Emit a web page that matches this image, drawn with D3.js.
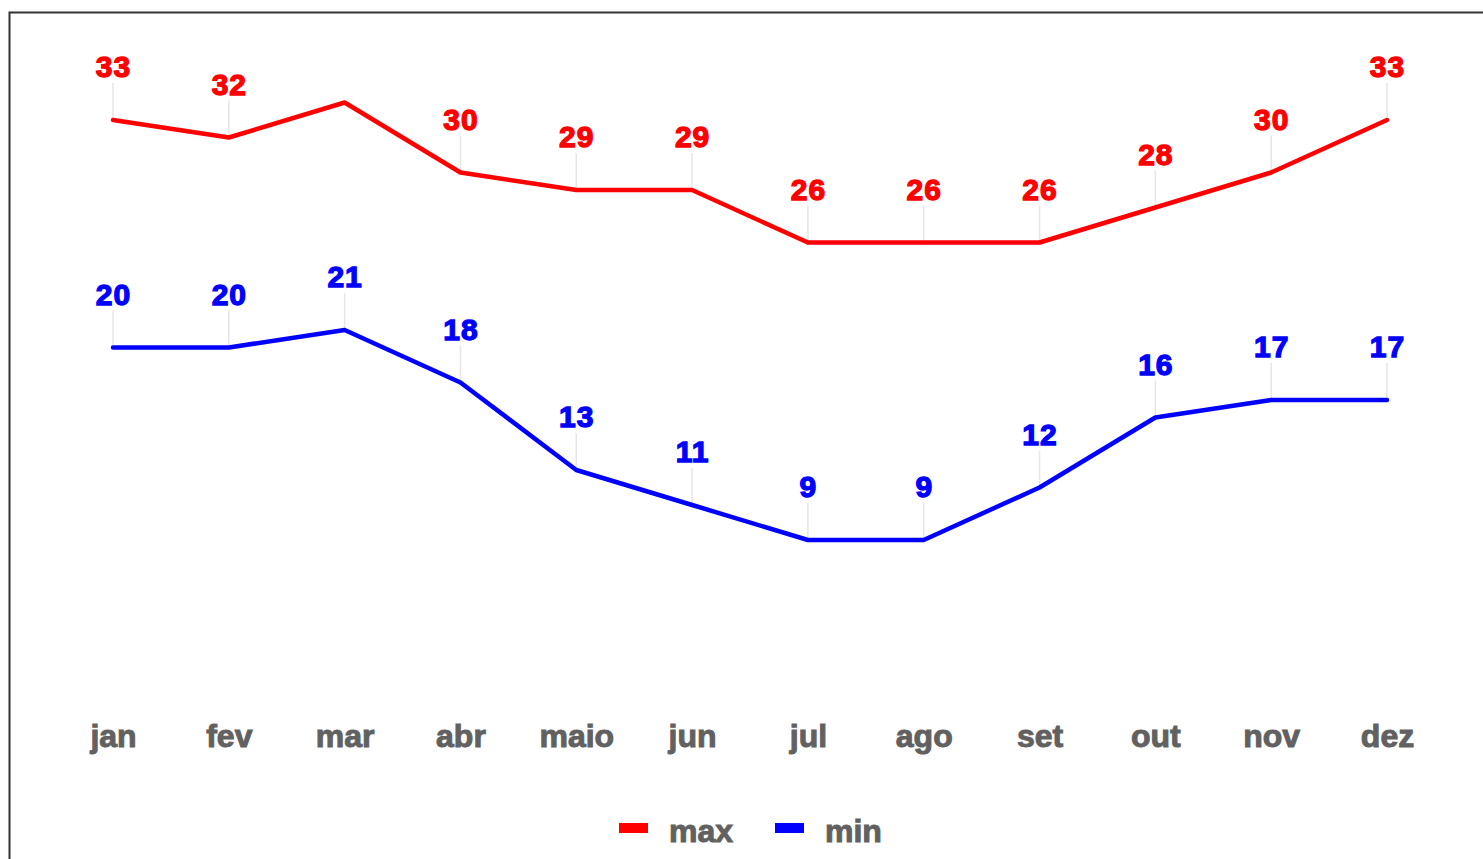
<!DOCTYPE html>
<html>
<head>
<meta charset="utf-8">
<script src="https://cdn.jsdelivr.net/npm/d3@7/dist/d3.min.js"></script>
<style>
  html, body { margin: 0; padding: 0; background: #fff; }
  svg { display: block; }
</style>
</head>
<body>
<svg id="chart" width="1483" height="859"></svg>
<script>
// Monthly temperatures (°C)
const months = ["jan", "fev", "mar", "abr", "maio", "jun", "jul", "ago", "set", "out", "nov", "dez"];
const maxTemps = [33, 32, 34, 30, 29, 29, 26, 26, 26, 28, 30, 33];
const minTemps = [20, 20, 21, 18, 13, 11, 9, 9, 12, 16, 17, 17];
// months whose "max" label is left off
const maxLabelHidden = ["mar"];

const seriesNames = ["max", "min"];
const seriesColors = ["#ff0000", "#0000ff"];

const svg = d3.select("#chart");
const W = 1483, H = 859;

// outer frame
svg.append("rect")
  .attr("x", 9.5).attr("y", 12.5)
  .attr("width", W + 20).attr("height", H + 20)
  .attr("fill", "#fff")
  .attr("stroke", "#333").attr("stroke-width", 2);

const x = d3.scalePoint().domain(months).range([113, 1387]);
const y = d3.scaleLinear().domain([0, 36]).range([697.5, 67.5]);

const series = [
  { name: seriesNames[0], color: seriesColors[0], values: maxTemps, hidden: maxLabelHidden },
  { name: seriesNames[1], color: seriesColors[1], values: minTemps, hidden: [] }
];

const labelFont = "'Liberation Sans', Arial, sans-serif";
const labelOffset = 53;

// leader lines from each label down to its point
series.forEach(s => {
  svg.append("g").selectAll("line")
    .data(months.map((m, i) => ({ m, v: s.values[i] })).filter(d => !s.hidden.includes(d.m)))
    .join("line")
    .attr("x1", d => x(d.m)).attr("x2", d => x(d.m))
    .attr("y1", d => y(d.v) - labelOffset + 16)
    .attr("y2", d => y(d.v))
    .attr("stroke", "#e6e6e6").attr("stroke-width", 1.5);
});

// the two lines
const line = d3.line().x(d => x(d.m)).y(d => y(d.v));
series.forEach(s => {
  svg.append("path")
    .datum(months.map((m, i) => ({ m, v: s.values[i] })))
    .attr("d", line)
    .attr("fill", "none")
    .attr("stroke", s.color)
    .attr("stroke-width", 4.5)
    .attr("stroke-linejoin", "round")
    .attr("stroke-linecap", "round");
});

// value labels
series.forEach(s => {
  svg.append("g").selectAll("text")
    .data(months.map((m, i) => ({ m, v: s.values[i] })).filter(d => !s.hidden.includes(d.m)))
    .join("text")
    .attr("x", d => x(d.m) + 0.5)
    .attr("y", d => y(d.v) - labelOffset + 10)
    .attr("text-anchor", "middle")
    .attr("font-family", labelFont)
    .attr("font-weight", "bold")
    .attr("font-size", 30)
    .attr("letter-spacing", 1)
    .attr("fill", s.color)
    .attr("stroke", s.color).attr("stroke-width", 1.3)
    .text(d => d.v);
});

// month axis (labels only)
const xAxis = d3.axisBottom(x).tickSize(0).tickPadding(0);
const gx = svg.append("g").attr("transform", "translate(0,724)").call(xAxis);
gx.select(".domain").remove();
gx.selectAll("text")
  .attr("dy", 0).attr("y", 23)
  .attr("font-family", labelFont)
  .attr("font-weight", "bold")
  .attr("font-size", 32)
  .attr("fill", "#616161")
  .attr("stroke", "#616161").attr("stroke-width", 1);

// legend
const legendItems = [
  { name: seriesNames[0], color: seriesColors[0], x: 619 },
  { name: seriesNames[1], color: seriesColors[1], x: 775 }
];
const lg = svg.append("g");
legendItems.forEach(it => {
  lg.append("rect")
    .attr("x", it.x).attr("y", 823)
    .attr("width", 29).attr("height", 10)
    .attr("fill", it.color);
  lg.append("text")
    .attr("x", it.x + 50).attr("y", 842)
    .attr("font-family", labelFont)
    .attr("font-weight", "bold")
    .attr("font-size", 32)
    .attr("fill", "#616161")
    .attr("stroke", "#616161").attr("stroke-width", 1)
    .text(it.name);
});
</script>
</body>
</html>
